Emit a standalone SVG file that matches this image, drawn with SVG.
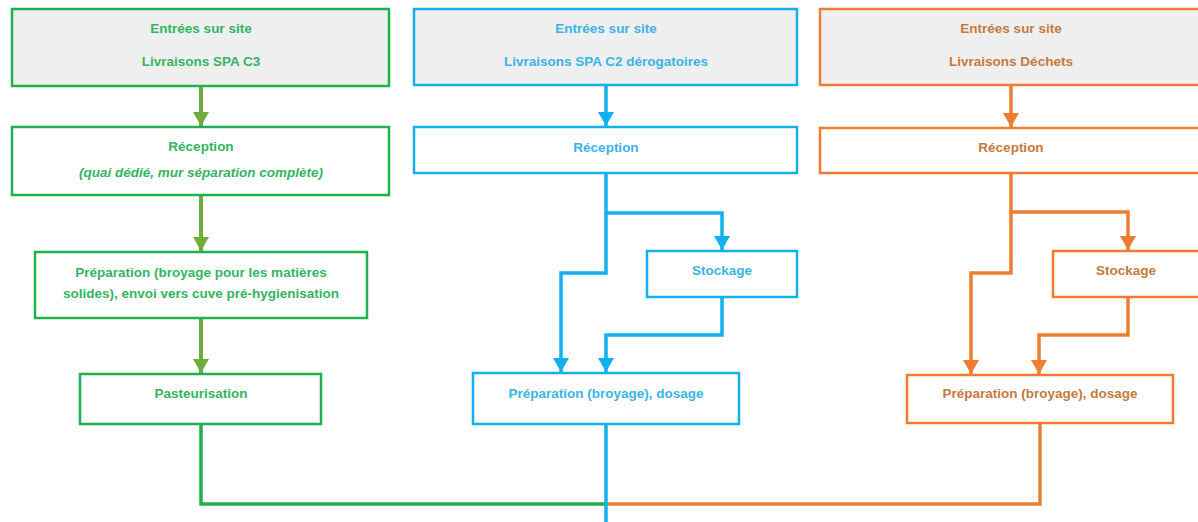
<svg xmlns="http://www.w3.org/2000/svg" width="1198" height="522" viewBox="0 0 1198 522">
<style>
text{font-family:"Liberation Sans",Arial,sans-serif;font-size:13.5px;font-weight:bold;text-anchor:middle}
.g rect{stroke:#1fb050;stroke-width:2.5}
.b rect{stroke:#12b0ee;stroke-width:2.5}
.o rect{stroke:#ee7d31;stroke-width:2.5}
.g text{fill:#34b462}
.b text{fill:#3ab4e4}
.o text{fill:#c57a3e}
.top{fill:#efefef}
.plain{fill:#ffffff}
.cg{stroke:#6eac3c;stroke-width:4;fill:none}
.cg2{stroke:#1fb050;stroke-width:3.5;fill:none}
.cb{stroke:#12b0ee;stroke-width:3.5;fill:none}
.co{stroke:#ee7d31;stroke-width:3.5;fill:none}
</style>
<defs>
<marker id="ag" markerUnits="userSpaceOnUse" markerWidth="16" markerHeight="16" refX="14" refY="8" orient="auto"><path d="M0,0 L14,8 L0,16 Z" fill="#6eac3c"/></marker>
<marker id="ab" markerUnits="userSpaceOnUse" markerWidth="16" markerHeight="16" refX="14" refY="8" orient="auto"><path d="M0,0 L14,8 L0,16 Z" fill="#12b0ee"/></marker>
<marker id="ao" markerUnits="userSpaceOnUse" markerWidth="16" markerHeight="16" refX="14" refY="8" orient="auto"><path d="M0,0 L14,8 L0,16 Z" fill="#ee7d31"/></marker>
</defs>
<rect width="1198" height="522" fill="#ffffff"/>
<g id="connectors">
<path class="cg" d="M201,86 V126" marker-end="url(#ag)"/>
<path class="cg" d="M201,195 V251" marker-end="url(#ag)"/>
<path class="cg" d="M201,318 V373" marker-end="url(#ag)"/>
<path class="cg2" d="M201,424 V504 H607"/>
<path class="co" d="M1040,423 V504 H607"/>
<path class="cb" d="M606,85 V126" marker-end="url(#ab)"/>
<path class="cb" d="M606,173 V213 H722 V250" marker-end="url(#ab)"/>
<path class="cb" d="M606,213 V273 H561 V372" marker-end="url(#ab)"/>
<path class="cb" d="M722,297 V335 H606 V372" marker-end="url(#ab)"/>
<path class="cb" d="M606,424 V522"/>
<path class="co" d="M1011,85 V127" marker-end="url(#ao)"/>
<path class="co" d="M1011,173 V212 H1128 V250" marker-end="url(#ao)"/>
<path class="co" d="M1011,212 V273 H971 V374" marker-end="url(#ao)"/>
<path class="co" d="M1128,297 V335 H1039 V374" marker-end="url(#ao)"/>
</g>
<g id="g-entrees" class="g"><rect class="top" x="12" y="9" width="377" height="77"/><text x="201" y="33">Entrées sur site</text><text x="201" y="66">Livraisons SPA C3</text></g>
<g id="g-reception" class="g"><rect class="plain" x="12" y="127" width="377" height="68"/><text x="201" y="151">Réception</text><text x="201" y="177" font-style="italic">(quai dédié, mur séparation complète)</text></g>
<g id="g-preparation" class="g"><rect class="plain" x="35" y="252" width="332" height="66"/><text x="201" y="277">Préparation (broyage pour les matières</text><text x="201" y="298">solides), envoi vers cuve pré-hygienisation</text></g>
<g id="g-pasteurisation" class="g"><rect class="plain" x="80" y="374" width="241" height="50"/><text x="201" y="398">Pasteurisation</text></g>
<g id="b-entrees" class="b"><rect class="top" x="414" y="9" width="383" height="76"/><text x="606" y="33">Entrées sur site</text><text x="606" y="66">Livraisons SPA C2 dérogatoires</text></g>
<g id="b-reception" class="b"><rect class="plain" x="414" y="127" width="383" height="46"/><text x="606" y="152">Réception</text></g>
<g id="b-stockage" class="b"><rect class="plain" x="647" y="251" width="150" height="46"/><text x="722" y="275">Stockage</text></g>
<g id="b-preparation" class="b"><rect class="plain" x="473" y="373" width="266" height="51"/><text x="606" y="398">Préparation (broyage), dosage</text></g>
<g id="o-entrees" class="o"><rect class="top" x="820" y="9" width="390" height="76"/><text x="1011" y="33">Entrées sur site</text><text x="1011" y="66">Livraisons Déchets</text></g>
<g id="o-reception" class="o"><rect class="plain" x="820" y="128" width="390" height="45"/><text x="1011" y="152">Réception</text></g>
<g id="o-stockage" class="o"><rect class="plain" x="1053" y="251" width="160" height="46"/><text x="1126" y="275">Stockage</text></g>
<g id="o-preparation" class="o"><rect class="plain" x="907" y="375" width="266" height="48"/><text x="1040" y="398">Préparation (broyage), dosage</text></g>
</svg>
